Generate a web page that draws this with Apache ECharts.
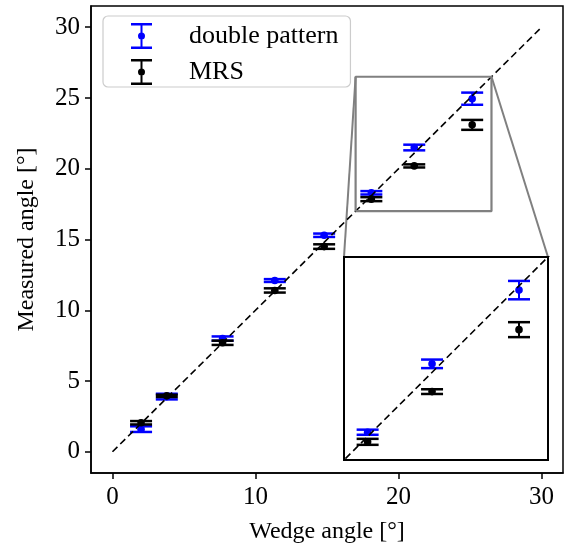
<!DOCTYPE html>
<html>
<head>
<meta charset="utf-8">
<script src="https://cdn.jsdelivr.net/npm/echarts@6/dist/echarts.min.js"></script>
<style>
  html, body { margin: 0; padding: 0; background: #fff; }
  #chart { width: 565px; height: 550px; }
</style>
</head>
<body>
<div id="chart"></div>
<script>
// values
const wedgeAngles = [2.0, 3.8, 7.7, 11.35, 14.8, 18.1, 21.1, 25.15];
const doublePattern = [1.6, 3.9, 8.0, 12.1, 15.3, 18.3, 21.5, 24.95];
const doublePatternErr = [0.2, 0.2, 0.15, 0.1, 0.12, 0.12, 0.2, 0.43];
const mrs = [2.05, 3.95, 7.7, 11.4, 14.5, 17.85, 20.2, 23.1];
const mrsErr = [0.12, 0.08, 0.15, 0.15, 0.16, 0.14, 0.11, 0.35];
const identityLine = [0, 30];
const axisRange = [-1.5, 31.5];
const xTicks = [0, 10, 20, 30];
const yTicks = [0, 5, 10, 15, 20, 25, 30];
const insetX = [17, 26.5];
const insetY = [17, 26.5];

const FONT = "'Liberation Serif', 'DejaVu Serif', serif";
const BLUE = "#0000ff";
const BLACK = "#000000";
const GRAY = "#808080";

const chart = echarts.init(document.getElementById("chart"), null, { renderer: "canvas" });

// error bar: stem + caps + dot
function errorBarRenderer(color) {
  return function (params, api) {
    const x = api.value(0), y = api.value(1), e = api.value(2);
    const top = api.coord([x, y + e]);
    const bot = api.coord([x, y - e]);
    const mid = api.coord([x, y]);
    const w = 11;
    const lineStyle = { stroke: color, lineWidth: 2.5 };
    return {
      type: "group",
      children: [
        { type: "line", shape: { x1: top[0], y1: top[1], x2: bot[0], y2: bot[1] }, style: { stroke: color, lineWidth: 2 } },
        { type: "line", shape: { x1: top[0] - w, y1: top[1], x2: top[0] + w, y2: top[1] }, style: lineStyle },
        { type: "line", shape: { x1: bot[0] - w, y1: bot[1], x2: bot[0] + w, y2: bot[1] }, style: lineStyle },
        { type: "circle", shape: { cx: mid[0], cy: mid[1], r: 3.8 }, style: { fill: color } },
      ],
    };
  };
}

function pts(ys, errs, filter) {
  const out = [];
  wedgeAngles.forEach((x, i) => {
    if (!filter || (x >= filter[0] && x <= filter[1])) out.push([x, ys[i], errs[i]]);
  });
  return out;
}

const legendIcon =
  "path://M0,0H21V2.5H0Z M9.5,2.5H11.5V23.5H9.5Z M0,23.5H21V26H0Z " +
  "M7,13A3.5,3.5 0 1,1 14,13A3.5,3.5 0 1,1 7,13Z";

const rect = [
  [insetX[0], insetY[0]], [insetX[1], insetY[0]], [insetX[1], insetY[1]],
  [insetX[0], insetY[1]], [insetX[0], insetY[0]],
];

const tickLabel = { color: BLACK, fontFamily: FONT, fontSize: 25 };

const option = {
  animation: false,
  backgroundColor: "#fff",
  grid: [
    { left: 91, right: 2, top: 6, bottom: 77, show: true, borderColor: BLACK, borderWidth: 1.5, z: 0 },
    { left: 344, top: 257, width: 204, height: 203, show: true, backgroundColor: "#fff", borderColor: BLACK, borderWidth: 2, z: 5 },
  ],
  legend: {
    orient: "vertical",
    left: 103,
    top: 16,
    padding: [7, 12, 2, 28],
    itemWidth: 21,
    itemHeight: 26,
    itemGap: 10,
    backgroundColor: "#fff",
    borderColor: "#cccccc",
    borderWidth: 1.2,
    borderRadius: 5,
    z: 20,
    textStyle: { color: BLACK, fontFamily: FONT, fontSize: 26, padding: [0, 0, 0, 32] },
    data: [
      { name: "double pattern", icon: legendIcon },
      { name: "MRS", icon: legendIcon },
    ],
  },
  xAxis: [
    {
      gridIndex: 0, type: "value", min: axisRange[0], max: axisRange[1],
      name: "Wedge angle [°]", nameLocation: "middle", nameGap: 47,
      nameTextStyle: { color: BLACK, fontFamily: FONT, fontSize: 24 },
      axisLine: { show: true, onZero: false, lineStyle: { color: BLACK, width: 1.5 } },
      axisTick: { show: true, length: 6, lineStyle: { color: BLACK, width: 1.5 }, customValues: xTicks },
      axisLabel: Object.assign({ margin: 12, customValues: xTicks }, tickLabel),
      splitLine: { show: false },
    },
    {
      gridIndex: 1, type: "value", min: insetX[0], max: insetX[1],
      axisLine: { show: false }, axisTick: { show: false }, axisLabel: { show: false }, splitLine: { show: false },
    },
  ],
  yAxis: [
    {
      gridIndex: 0, type: "value", min: axisRange[0], max: axisRange[1],
      name: "Measured angle [°]", nameLocation: "middle", nameGap: 52,
      nameTextStyle: { color: BLACK, fontFamily: FONT, fontSize: 24 },
      axisLine: { show: true, onZero: false, lineStyle: { color: BLACK, width: 1.5 } },
      axisTick: { show: true, length: 6, lineStyle: { color: BLACK, width: 1.5 }, customValues: yTicks },
      axisLabel: Object.assign({ margin: 11, customValues: yTicks }, tickLabel),
      splitLine: { show: false },
    },
    {
      gridIndex: 1, type: "value", min: insetY[0], max: insetY[1],
      axisLine: { show: false }, axisTick: { show: false }, axisLabel: { show: false }, splitLine: { show: false },
    },
  ],
  series: [
    {
      name: "double pattern", type: "custom", xAxisIndex: 0, yAxisIndex: 0, z: 2,
      itemStyle: { color: BLUE }, renderItem: errorBarRenderer(BLUE),
      data: pts(doublePattern, doublePatternErr), clip: true,
    },
    {
      name: "MRS", type: "custom", xAxisIndex: 0, yAxisIndex: 0, z: 3,
      itemStyle: { color: BLACK }, renderItem: errorBarRenderer(BLACK),
      data: pts(mrs, mrsErr), clip: true,
    },
    {
      name: "identity", type: "line", xAxisIndex: 0, yAxisIndex: 0, z: 4,
      data: identityLine.map(v => [v, v]), symbol: "none", clip: true,
      lineStyle: { color: BLACK, width: 1.6, type: [7, 4] },
    },
    {
      name: "zoom box", type: "line", xAxisIndex: 0, yAxisIndex: 0, z: 4,
      data: rect, symbol: "none",
      lineStyle: { color: GRAY, width: 2.2 },
    },
    {
      name: "double pattern", type: "custom", xAxisIndex: 1, yAxisIndex: 1, z: 6,
      itemStyle: { color: BLUE }, renderItem: errorBarRenderer(BLUE),
      data: pts(doublePattern, doublePatternErr, insetX), clip: true,
    },
    {
      name: "MRS", type: "custom", xAxisIndex: 1, yAxisIndex: 1, z: 7,
      itemStyle: { color: BLACK }, renderItem: errorBarRenderer(BLACK),
      data: pts(mrs, mrsErr, insetX), clip: true,
    },
    {
      name: "identity inset", type: "line", xAxisIndex: 1, yAxisIndex: 1, z: 8,
      data: identityLine.map(v => [v, v]), symbol: "none", clip: true,
      lineStyle: { color: BLACK, width: 1.6, type: [7, 4] },
    },
  ],
};

chart.setOption(option);

// connector lines from the zoom box corners to the inset corners
const main = { xAxisIndex: 0, yAxisIndex: 0 };
const inset = { xAxisIndex: 1, yAxisIndex: 1 };
const a1 = chart.convertToPixel(main, [insetX[0], insetY[1]]);
const b1 = chart.convertToPixel(inset, [insetX[0], insetY[1]]);
const a2 = chart.convertToPixel(main, [insetX[1], insetY[1]]);
const b2 = chart.convertToPixel(inset, [insetX[1], insetY[1]]);
chart.setOption({
  graphic: [
    { type: "line", z: 4, shape: { x1: a1[0], y1: a1[1], x2: b1[0], y2: b1[1] }, style: { stroke: GRAY, lineWidth: 2 } },
    { type: "line", z: 4, shape: { x1: a2[0], y1: a2[1], x2: b2[0], y2: b2[1] }, style: { stroke: GRAY, lineWidth: 2 } },
  ],
});

window.addEventListener("resize", () => chart.resize());
</script>
</body>
</html>
